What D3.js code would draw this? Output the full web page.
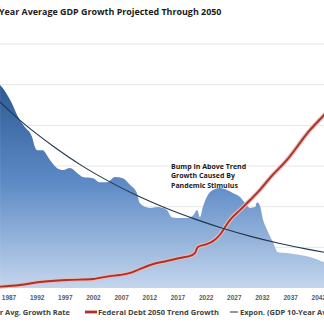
<!DOCTYPE html>
<html>
<head>
<meta charset="utf-8">
<script src="https://cdn.jsdelivr.net/npm/d3@7/dist/d3.min.js"></script>
<style>
  html, body { margin: 0; padding: 0; background: #fff; overflow: hidden; }
  svg { display: block; font-family: "Open Sans", sans-serif; }
</style>
</head>
<body>
<svg id="chart" width="324" height="327"></svg>
<script>
// GDP 10-year average growth (%)
const gdpYears = [1985.5, 1986.0, 1987.3, 1989.0, 1989.9, 1991.2, 1991.7, 1992.1, 1993.1, 1993.8,
  1994.4, 1995.6, 1996.7, 1997.9, 1999.2, 2000.2, 2002.0, 2003.2, 2004.5, 2005.9,
  2007.3, 2008.6, 2009.8, 2010.3, 2012.1, 2013.5, 2015.1, 2016.0, 2016.9, 2018.7,
  2019.8, 2020.5, 2021.0, 2021.5, 2022.2, 2023.3, 2024.5, 2025.8, 2026.9, 2028.1,
  2029.0, 2029.9, 2030.8, 2031.1, 2031.6, 2032.2, 2032.9, 2034.0, 2034.8, 2036.4,
  2038.8, 2041.1, 2043.0, 2046.0, 2050.0];
const gdpValues = [4.99, 4.91, 4.62, 4.13, 3.96, 3.71, 3.46, 3.39, 3.39, 3.27,
  3.14, 2.95, 2.90, 2.95, 2.83, 2.73, 2.70, 2.60, 2.60, 2.73,
  2.70, 2.53, 2.33, 2.09, 1.97, 1.99, 1.92, 1.74, 1.72, 1.72,
  1.79, 1.92, 1.74, 1.99, 2.24, 2.41, 2.46, 2.41, 2.33, 2.24,
  2.09, 1.97, 1.99, 2.11, 2.04, 1.67, 1.43, 1.11, 0.88, 0.86,
  0.81, 0.74, 0.64, 0.58, 0.52];

// exponential trend of the GDP series
const trendYears = [1985, 1990, 1995, 2000, 2005, 2010, 2015, 2020, 2025, 2030, 2035, 2040, 2045, 2050];
const trendValues = [4.64, 4.01, 3.48, 3.01, 2.61, 2.26, 1.96, 1.70, 1.47, 1.27, 1.10, 0.955, 0.83, 0.72];

// federal debt ($ trillions, right axis)
const debtYears = [1985.5, 1989.0, 1992.6, 1997.4, 2002.0, 2005.0, 2006.8, 2008.6, 2010.3, 2012.7,
  2015.1, 2017.4, 2019.6, 2020.1, 2020.6, 2022.2, 2023.3, 2024.5, 2025.1, 2026.3,
  2028.1, 2029.9, 2031.6, 2033.4, 2036.4, 2040.5, 2043.0, 2046.0, 2050.0];
const debtValues = [1.0, 2.2, 4.4, 5.9, 6.6, 8.8, 9.6, 11.1, 14.0, 17.7,
  19.9, 22.1, 24.3, 25.8, 30.2, 32.4, 34.6, 39.1, 42.7, 50.1,
  57.5, 64.9, 72.2, 81.1, 94.3, 116.4, 127.5, 141.5, 160.0];

const tickYears = [1987, 1992, 1997, 2002, 2007, 2012, 2017, 2022, 2027, 2032, 2037, 2042, 2047];
const gridValues = [0, 1, 2, 3, 4, 5, 6];

const titleText = "10-Year Average GDP Growth Projected Through 2050";
const legendLabels = ["GDP 10-Year Avg. Growth Rate", "Federal Debt 2050 Trend Growth", "Expon. (GDP 10-Year Avg. Growth Rate)"];
const noteLines = ["Bump In Above Trend", "Growth Caused By", "Pandemic Stimulus"];

const svg = d3.select("#chart");
svg.append("rect").attr("width", 324).attr("height", 327).attr("fill", "#fff");

const x = d3.scaleLinear().domain([1987, 2042]).range([8.5, 318.3]);
const y = d3.scaleLinear().domain([0, 6]).range([288, 44]);
const yDebt = d3.scaleLinear().domain([0, 180]).range([288, 44]);

// gradient for the area
const grad = svg.append("defs").append("linearGradient")
    .attr("id", "gdpFill")
    .attr("gradientUnits", "userSpaceOnUse")
    .attr("x1", 0).attr("x2", 0).attr("y1", 80).attr("y2", 290);
grad.append("stop").attr("offset", "0%").attr("stop-color", "#2b5894");
grad.append("stop").attr("offset", "50%").attr("stop-color", "#5f8cc6");
grad.append("stop").attr("offset", "100%").attr("stop-color", "#c6d7ee");

// gridlines
svg.append("g").selectAll("line")
    .data(gridValues.slice(1))
    .enter().append("line")
    .attr("x1", -10).attr("x2", 340)
    .attr("y1", d => y(d)).attr("y2", d => y(d))
    .attr("stroke", "#e6e6e6").attr("stroke-width", 1);

// GDP area
const gdp = gdpYears.map((d, i) => ({year: d, v: gdpValues[i]}));
svg.append("path")
    .datum(gdp)
    .attr("fill", "url(#gdpFill)")
    .attr("d", d3.area().x(d => x(d.year)).y0(y(0)).y1(d => y(d.v)).curve(d3.curveMonotoneX));

// debt line with a soft glow
const debt = debtYears.map((d, i) => ({year: d, v: debtValues[i]}));
const debtLine = d3.line().x(d => x(d.year)).y(d => yDebt(d.v)).curve(d3.curveMonotoneX);
svg.append("path").datum(debt)
    .attr("fill", "none").attr("stroke", "#eab9b5").attr("stroke-width", 4.2)
    .attr("stroke-linejoin", "round").attr("d", debtLine);
svg.append("path").datum(debt)
    .attr("fill", "none").attr("stroke", "#a8322c").attr("stroke-width", 1.9)
    .attr("stroke-linejoin", "round").attr("d", debtLine);

// exponential trend
const trend = trendYears.map((d, i) => ({year: d, v: trendValues[i]}));
svg.append("path").datum(trend)
    .attr("fill", "none").attr("stroke", "#22354d").attr("stroke-width", 1.1)
    .attr("d", d3.line().x(d => x(d.year)).y(d => y(d.v)).curve(d3.curveMonotoneX));

// x axis labels
const xAxis = svg.append("g")
    .attr("transform", "translate(0,292)")
    .call(d3.axisBottom(x).tickValues(tickYears).tickFormat(d3.format("d")).tickSize(0).tickPadding(3));
xAxis.select(".domain").remove();
xAxis.selectAll("text")
    .attr("fill", "#595959")
    .style("font-size", "6.5px").style("font-weight", "600");

// title: the left part is cut off by the frame
const title = svg.append("text")
    .attr("y", 15)
    .attr("fill", "#1a1a1a")
    .style("font-size", "10px").style("font-weight", "700")
    .text(titleText);
{
  const n = title.node();
  const full = n.getComputedTextLength();
  const pre = n.getSubStringLength(0, 3);
  const k = 223 / (full - pre);
  title.style("font-size", (10 * k) + "px").attr("x", -pre * k - 1);
}

// annotation
svg.append("g").selectAll("text")
    .data(noteLines)
    .enter().append("text")
    .attr("x", 171).attr("y", (d, i) => 168.5 + i * 9.5)
    .attr("fill", "#1a1a1a")
    .style("font-size", "7px").style("font-weight", "700")
    .text(d => d);

// legend
const lg = svg.append("g").style("font-size", "7.5px").style("font-weight", "700").attr("fill", "#404040");
lg.append("text").attr("x", 70).attr("y", 314.5).attr("text-anchor", "end").text(legendLabels[0]);
lg.append("line").attr("x1", 85).attr("x2", 97).attr("y1", 312).attr("y2", 312)
    .attr("stroke", "#eab9b5").attr("stroke-width", 4.2);
lg.append("line").attr("x1", 85).attr("x2", 97).attr("y1", 312).attr("y2", 312)
    .attr("stroke", "#a8322c").attr("stroke-width", 2.2);
lg.append("text").attr("x", 98).attr("y", 314.5).text(legendLabels[1]);
lg.append("line").attr("x1", 230).attr("x2", 238).attr("y1", 312).attr("y2", 312)
    .attr("stroke", "#22354d").attr("stroke-width", 1);
lg.append("text").attr("x", 240).attr("y", 314.5).text(legendLabels[2]);
</script>
</body>
</html>
